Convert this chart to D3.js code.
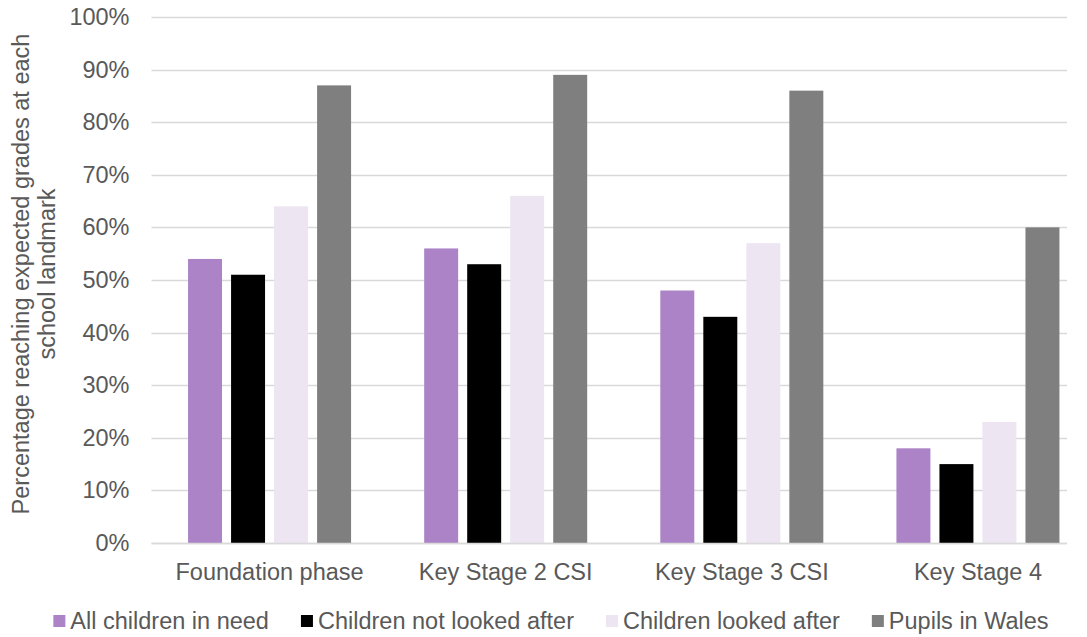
<!DOCTYPE html>
<html>
<head>
<meta charset="utf-8">
<script src="https://cdn.jsdelivr.net/npm/d3@7/dist/d3.min.js"></script>
<style>
  html, body { margin: 0; padding: 0; background: #ffffff; overflow: hidden; }
  svg { display: block; font-family: "Liberation Sans", Arial, sans-serif; }
</style>
</head>
<body>
<svg id="chart" width="1087" height="637"></svg>
<script>
// Stages of schooling along the x axis
const categories = ["Foundation phase", "Key Stage 2 CSI", "Key Stage 3 CSI", "Key Stage 4"];

// Share of pupils reaching expected grades (%)
const allChildrenInNeed       = [54, 56, 48, 18];
const childrenNotLookedAfter  = [51, 53, 43, 15];
const childrenLookedAfter     = [64, 66, 57, 23];
const pupilsInWales           = [87, 89, 86, 60];

const seriesNames = ["All children in need", "Children not looked after", "Children looked after", "Pupils in Wales"];
const seriesValues = [allChildrenInNeed, childrenNotLookedAfter, childrenLookedAfter, pupilsInWales];
const seriesColors = ["#ab83c6", "#000000", "#ede5f2", "#7f7f7f"];

const yTicks = [0, 10, 20, 30, 40, 50, 60, 70, 80, 90, 100];

const svg = d3.select("#chart");
// Category bands span a wider range than the drawn gridlines
const plot = { left: 151.5, right: 1096, gridRight: 1067, top: 17, bottom: 543 };
const textColor = "#595959";
const fontSize = 23.5;

const y = d3.scaleLinear().domain([0, 100]).range([plot.bottom, plot.top]);

const x0 = d3.scaleBand().domain(categories).range([plot.left, plot.right]).padding(0);
const x1 = d3.scaleBand()
  .domain(seriesNames)
  .range([0, x0.bandwidth()])
  .paddingInner(0.21)
  .paddingOuter(0.85);

// Gridlines
svg.append("g")
  .selectAll("line")
  .data(yTicks)
  .join("line")
  .attr("x1", plot.left)
  .attr("x2", plot.gridRight)
  .attr("y1", d => Math.round(y(d)) + 0.5)
  .attr("y2", d => Math.round(y(d)) + 0.5)
  .attr("stroke", "#d9d9d9")
  .attr("stroke-width", 1.3);

// Y axis labels
const yAxis = d3.axisLeft(y)
  .tickValues(yTicks)
  .tickFormat(d => d + "%")
  .tickSize(0)
  .tickPadding(22);
const yG = svg.append("g")
  .attr("transform", `translate(${plot.left},0)`)
  .call(yAxis);
yG.select(".domain").remove();
yG.selectAll("text")
  .attr("fill", textColor)
  .attr("font-size", fontSize)
  .attr("font-family", "Liberation Sans, Arial, sans-serif");

// Bars
const groups = svg.append("g")
  .selectAll("g")
  .data(categories)
  .join("g")
  .attr("transform", d => `translate(${x0(d)},0)`);

groups.selectAll("rect")
  .data((c, ci) => seriesNames.map((s, si) => ({ series: s, value: seriesValues[si][ci], color: seriesColors[si] })))
  .join("rect")
  .attr("x", d => x1(d.series))
  .attr("width", x1.bandwidth())
  .attr("y", d => y(d.value))
  .attr("height", d => y(0) - y(d.value))
  .attr("fill", d => d.color);

// Baseline
svg.append("line")
  .attr("x1", plot.left).attr("x2", plot.gridRight)
  .attr("y1", Math.round(y(0)) + 0.5).attr("y2", Math.round(y(0)) + 0.5)
  .attr("stroke", "#d9d9d9").attr("stroke-width", 1.3);

// X axis labels
const xAxis = d3.axisBottom(x0).tickSize(0).tickPadding(20);
const xG = svg.append("g")
  .attr("transform", `translate(0,${plot.bottom})`)
  .call(xAxis);
xG.select(".domain").remove();
xG.selectAll("text")
  .attr("fill", textColor)
  .attr("font-size", fontSize)
  .attr("font-family", "Liberation Sans, Arial, sans-serif");

// Y axis title
const yTitle = svg.append("text")
  .attr("transform", "translate(0,274) rotate(-90)")
  .attr("text-anchor", "middle")
  .attr("fill", textColor)
  .attr("font-size", fontSize);
yTitle.append("tspan").attr("x", 0).attr("y", 29).text("Percentage reaching expected grades at each");
yTitle.append("tspan").attr("x", 0).attr("y", 55).text("school landmark");

// Legend: laid out left to right, then centred on the canvas
const legend = svg.append("g");
let lx = 0;
seriesNames.forEach((name, i) => {
  const item = legend.append("g").attr("transform", `translate(${lx},0)`);
  item.append("rect")
    .attr("x", 0).attr("y", -6)
    .attr("width", 12).attr("height", 12)
    .attr("fill", seriesColors[i]);
  const t = item.append("text")
    .attr("x", 17).attr("y", 0)
    .attr("dy", "0.35em")
    .attr("fill", textColor)
    .attr("font-size", fontSize)
    .text(name);
  lx += 17 + t.node().getComputedTextLength() + (i < seriesNames.length - 1 ? 32 : 0);
});
legend.attr("transform", `translate(${551 - lx / 2},621)`);
</script>
</body>
</html>
